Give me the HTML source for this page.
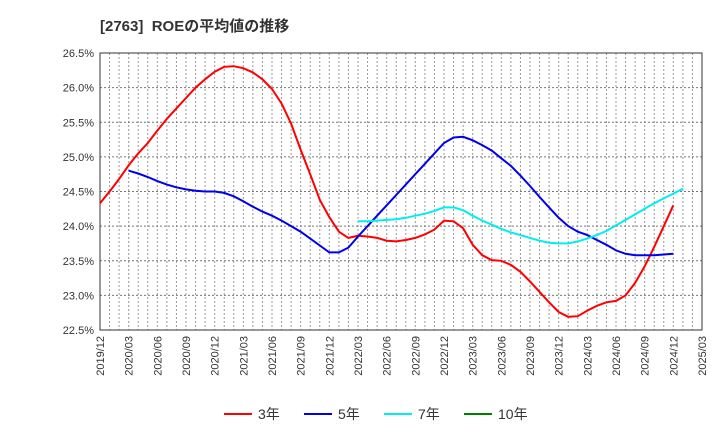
<!DOCTYPE html>
<html><head><meta charset="utf-8"><style>
body{margin:0;background:#fff;font-family:"Liberation Sans","Noto Sans CJK JP",sans-serif;}
</style></head><body>
<svg id="chart" width="720" height="440" xmlns="http://www.w3.org/2000/svg" font-family="Liberation Sans, Noto Sans CJK JP, sans-serif">
<text x="100" y="31" font-size="15" font-weight="bold" fill="#333" xml:space="preserve">[2763]  ROEの平均値の推移</text>
<g id="grid"></g><g id="axes"></g><g id="series"></g><g id="legend"></g>
</svg>
<script>
const yTicks=[22.5,23.0,23.5,24.0,24.5,25.0,25.5,26.0,26.5];
const xLabels=["2019/12","2020/03","2020/06","2020/09","2020/12","2021/03","2021/06","2021/09","2021/12","2022/03","2022/06","2022/09","2022/12","2023/03","2023/06","2023/09","2023/12","2024/03","2024/06","2024/09","2024/12","2025/03"];
const s3=[24.33,24.5,24.68,24.88,25.05,25.2,25.38,25.55,25.7,25.85,26.0,26.12,26.23,26.3,26.31,26.28,26.22,26.12,25.98,25.77,25.48,25.1,24.75,24.38,24.13,23.92,23.83,23.86,23.85,23.83,23.79,23.78,23.8,23.83,23.88,23.95,24.08,24.07,23.97,23.73,23.58,23.51,23.5,23.44,23.34,23.2,23.05,22.9,22.76,22.69,22.7,22.78,22.85,22.9,22.92,23.0,23.18,23.42,23.7,24.0,24.3];
const s5=[null,null,null,24.8,24.76,24.71,24.65,24.6,24.56,24.53,24.51,24.5,24.5,24.48,24.43,24.36,24.28,24.21,24.15,24.08,24.0,23.92,23.82,23.72,23.62,23.62,23.69,23.85,24.0,24.15,24.3,24.45,24.6,24.75,24.9,25.05,25.2,25.28,25.29,25.24,25.17,25.09,24.98,24.87,24.73,24.58,24.42,24.27,24.12,24.0,23.92,23.87,23.8,23.73,23.65,23.6,23.58,23.58,23.58,23.59,23.6];
const s7=[null,null,null,null,null,null,null,null,null,null,null,null,null,null,null,null,null,null,null,null,null,null,null,null,null,null,null,24.07,24.07,24.08,24.09,24.1,24.12,24.15,24.18,24.22,24.27,24.27,24.23,24.15,24.08,24.02,23.96,23.91,23.87,23.83,23.79,23.76,23.75,23.75,23.78,23.82,23.87,23.93,24.01,24.09,24.17,24.25,24.33,24.4,24.47,24.54];
const s10=[];
const L=100,R=702,T=53,B=330,NS="http://www.w3.org/2000/svg";
const nMonths=63;
function xs(i){return L+(R-L)*i/nMonths;}
function ys(v){return B-(v-22.5)/4*(B-T);}
function mk(t,a,p){const e=document.createElementNS(NS,t);for(const k in a)e.setAttribute(k,a[k]);p.appendChild(e);return e;}
const grid=document.getElementById('grid'),axes=document.getElementById('axes'),ser=document.getElementById('series'),leg=document.getElementById('legend');
for(let i=1;i<nMonths;i++){const g=mk('line',{x1:xs(i),x2:xs(i),y1:T,y2:B,stroke:'#999','stroke-dasharray':'2,2','stroke-width':1},grid);

}
yTicks.forEach(v=>{const g=mk('line',{x1:L,x2:R,y1:ys(v),y2:ys(v),stroke:'#777','stroke-dasharray':'2,2','stroke-width':1},grid);


const t=mk('text',{x:L-6,y:ys(v)+4,'text-anchor':'end','font-size':11,fill:'#333'},axes);


t.textContent=v.toFixed(1)+'%';});
const fr=mk('rect',{x:L,y:T,width:R-L,height:B-T,fill:'none',stroke:'#333','stroke-width':1},axes);


xLabels.forEach((s,k)=>{const x=xs(k*3);const t=mk('text',{transform:`translate(${x+4},${B+6}) rotate(-90)`,'text-anchor':'end','font-size':11,fill:'#333'},axes);


t.textContent=s;});
function line(d,c,name){let p='';d.forEach((v,i)=>{if(v==null)return;p+=(p?'L':'M')+xs(i).toFixed(1)+','+ys(v).toFixed(1);});
if(!p)return;const e=mk('path',{d:p,fill:'none',stroke:c,'stroke-width':2},ser);

}
line(s3,'#ff0000','series-3yr');line(s5,'#0000ee','series-5yr');line(s7,'#00eeee','series-7yr');line(s10,'#008000','series-10yr');
[['3年','#ff0000',224],['5年','#0000ee',304],['7年','#00eeee',384],['10年','#008000',464]].forEach(a=>{
const g=mk('g',{},leg);


mk('line',{x1:a[2],x2:a[2]+28,y1:414,y2:414,stroke:a[1],'stroke-width':2},g);
const t=mk('text',{x:a[2]+34,y:419,'font-size':14,fill:'#333'},g);t.textContent=a[0];});
</script>
</body></html>
